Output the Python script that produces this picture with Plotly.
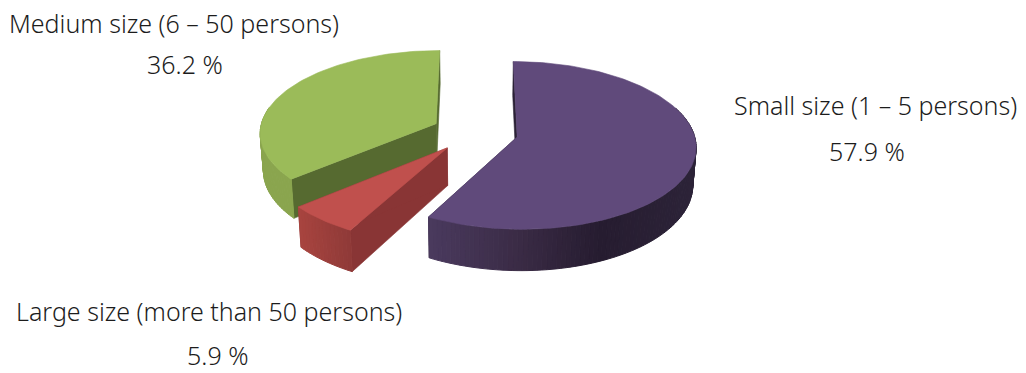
import math
import plotly.graph_objects as go

# Employment size shares, clockwise from twelve o'clock
categories = ["Small size (1 – 5 persons)", "Large size (more than 50 persons)", "Medium size (6 – 50 persons)"]
shares = [57.9, 5.9, 36.2]

# Face colours per slice
top_colors = ["#604a7b", "#c0504d", "#9bbb59"]
cut_colors = ["#2b2236", "#893535", "#566a30"]
rim_stops = [
    [(0.0, "#4a3a5e"), (0.34, "#3a2b45"), (0.64, "#261c30"), (1.0, "#2c2338")],
    [(0.0, "#a8443f"), (1.0, "#8f3a38")],
    [(0.0, "#8aa54e"), (1.0, "#8aa54e")],
]

# Pie projection settings (pixels on the hidden axes)
CX, CY = 475.0, 132.0
RX, RY = 176.5, 82.0
TILT = 0.10
EXPLODE = 0.245
DEPTH = 37.0
VANISH_X, SHRINK = 475.0, 0.985
LABEL_FONT = "Noto Sans"
LABEL_SIZE = 25


def project(px, py, lower=False):
    w = 1.0 / (1.0 - TILT * py)
    x = CX + RX * px * w
    y = CY + RY * py * w
    if lower:
        x = VANISH_X + (x - VANISH_X) * SHRINK
        y += DEPTH * w
    return x, y


def hex_mix(stops, t):
    t = min(1.0, max(0.0, t))
    for (t0, c0), (t1, c1) in zip(stops, stops[1:]):
        if t <= t1:
            f = (t - t0) / (t1 - t0) if t1 > t0 else 0
            a = [int(c0[i:i + 2], 16) for i in (1, 3, 5)]
            b = [int(c1[i:i + 2], 16) for i in (1, 3, 5)]
            return "#" + "".join(f"{round(u + (v - u) * f):02x}" for u, v in zip(a, b))
    return stops[-1][1]


def poly(fig, pts, color, width=0.6):
    xs = [p[0] for p in pts] + [pts[0][0]]
    ys = [p[1] for p in pts] + [pts[0][1]]
    fig.add_trace(go.Scatter(x=xs, y=ys, mode="lines", fill="toself", fillcolor=color,
                             line=dict(color=color, width=width), hoverinfo="skip", showlegend=False))


def draw_slice(fig, start, end, idx):
    mid = (start + end) / 2
    ox, oy = EXPLODE * math.sin(mid), -EXPLODE * math.cos(mid)
    n = max(8, int((end - start) * 40))
    angles = [start + (end - start) * i / n for i in range(n + 1)]
    rim = [(ox + math.sin(a), oy - math.cos(a)) for a in angles]
    apex = (ox, oy)

    # radial cut faces
    for p in (rim[0], rim[-1]):
        poly(fig, [project(*apex), project(*p), project(*p, lower=True), project(*apex, lower=True)], cut_colors[idx])

    # curved outer wall, banded for the horizontal shading
    xs_all = [project(*p)[0] for p in rim]
    x_lo, x_hi = min(xs_all), max(xs_all)
    for p, q in zip(rim, rim[1:]):
        if (p[1] + q[1]) / 2 < -0.3:
            continue
        t = ((project(*p)[0] + project(*q)[0]) / 2 - x_lo) / (x_hi - x_lo)
        poly(fig, [project(*p), project(*q), project(*q, lower=True), project(*p, lower=True)],
             hex_mix(rim_stops[idx], t), width=1.0)

    # flat top
    poly(fig, [project(*apex)] + [project(*p) for p in rim], top_colors[idx])


fig = go.Figure()

total = sum(shares)
edges = [0.0]
for s in shares:
    edges.append(edges[-1] + 2 * math.pi * s / total)

# Painter's order: back slice first, front-right slice last
for i in (2, 1, 0):
    draw_slice(fig, edges[i], edges[i + 1], i)

label_spots = {
    0: ((875.5, 105), (867, 151)),
    1: ((209, 311), (217.5, 355)),
    2: ((173.5, 23), (184.5, 64)),
}
for i, ((nx, ny), (vx, vy)) in label_spots.items():
    fig.add_annotation(x=nx, y=ny, text=categories[i], showarrow=False,
                       font=dict(family=LABEL_FONT, size=LABEL_SIZE, color="#1c1c1c", weight=300))
    fig.add_annotation(x=vx, y=vy, text=f"{shares[i]} %", showarrow=False,
                       font=dict(family=LABEL_FONT, size=LABEL_SIZE, color="#1c1c1c", weight=300))

fig.update_layout(
    width=1026, height=373, margin=dict(l=0, r=0, t=0, b=0),
    paper_bgcolor="white", plot_bgcolor="white", showlegend=False,
    xaxis=dict(range=[0, 1026], visible=False, fixedrange=True),
    yaxis=dict(range=[373, 0], visible=False, fixedrange=True),
)
fig.write_html("out.html", config={"displayModeBar": False})
